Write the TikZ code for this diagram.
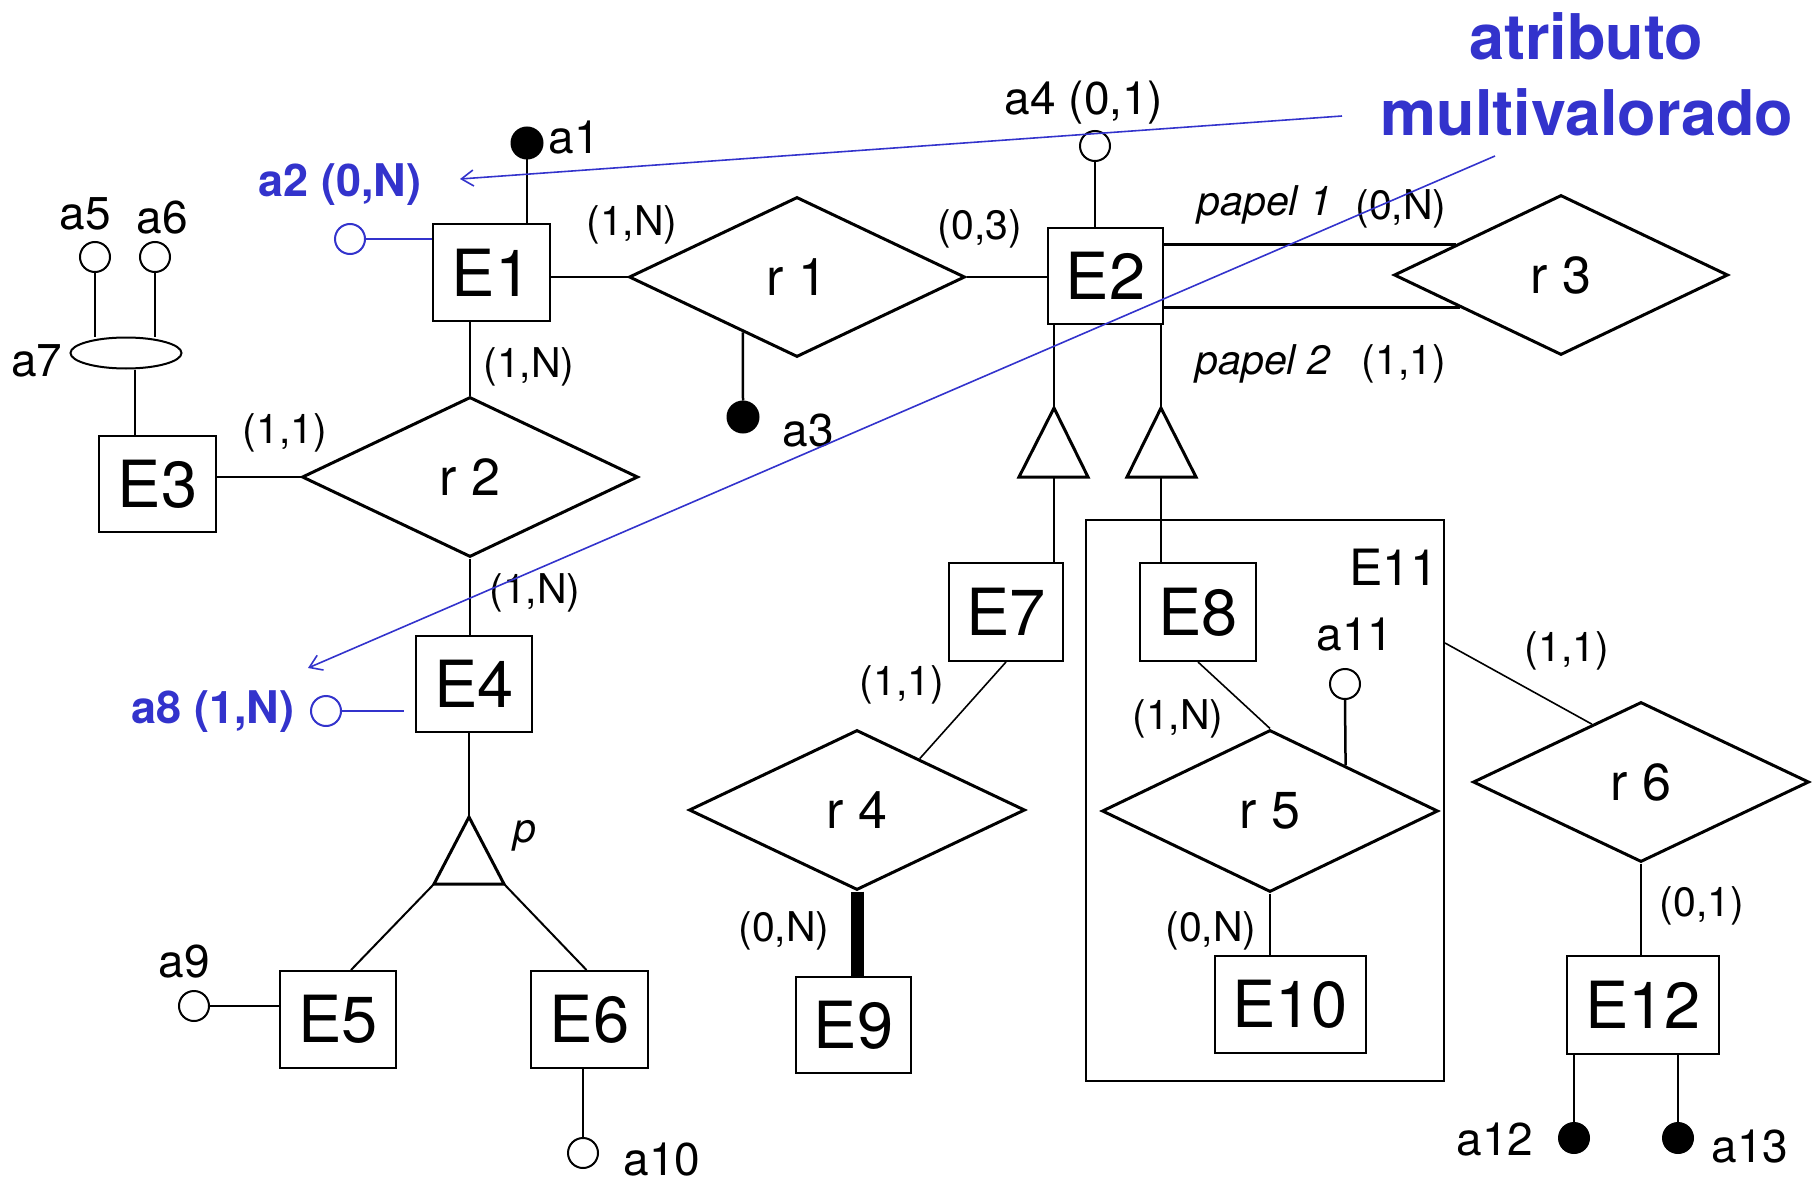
\documentclass[tikz,border=0pt]{standalone}
\usepackage{fontspec}
\setmainfont{TeX Gyre Heros}
\usetikzlibrary{shapes.geometric,arrows.meta,calc}
\definecolor{annblue}{RGB}{51,51,204}
\newcommand{\myfs}[1]{\fontsize{#1pt}{#1pt}\selectfont}
\begin{document}
\begin{tikzpicture}[x=1pt,y=-1pt,
  ent/.style={draw, line width=2pt, inner sep=0pt, font=\myfs{65}},
  rel/.style={draw, diamond, line width=3pt, inner sep=0pt, minimum width=336pt, minimum height=160pt, font=\myfs{52}},
  att/.style={draw, circle, line width=2pt, minimum size=30pt, inner sep=0pt},
  keyatt/.style={att, fill=black},
  lab/.style={font=\myfs{46}, inner sep=0pt},
  card/.style={font=\myfs{41}, inner sep=0pt},
  role/.style={font=\myfs{41}\itshape, inner sep=0pt},
  bluelab/.style={font=\myfs{45}\bfseries, text=annblue, inner sep=0pt},
  conn/.style={line width=2.5pt},
  thinconn/.style={line width=1.6pt},
  isa/.style={line width=3pt, line join=miter},
  annline/.style={draw=annblue, line width=1.6pt}
]
\useasboundingbox (0,0) rectangle (1813,1185);

% entities
\node[ent, minimum width=117pt, minimum height=97pt] (E1) at (491.5,272.5) {E1};
\node[ent, minimum width=115pt, minimum height=96pt] (E2) at (1105.5,276) {E2};
\node[ent, minimum width=117pt, minimum height=96pt] (E3) at (157.5,484) {E3};
\node[ent, minimum width=116pt, minimum height=96pt] (E4) at (474,684) {E4};
\node[ent, minimum width=116pt, minimum height=97pt] (E5) at (338,1019.5) {E5};
\node[ent, minimum width=117pt, minimum height=97pt] (E6) at (589.5,1019.5) {E6};
\node[ent, minimum width=114pt, minimum height=98pt] (E7) at (1006,612) {E7};
\node[ent, minimum width=116pt, minimum height=98pt] (E8) at (1198,612) {E8};
\node[ent, minimum width=115pt, minimum height=96pt] (E9) at (853.5,1025) {E9};
\node[ent, minimum width=151pt, minimum height=97pt] (E10) at (1290,1004) {E10};
\node[ent, minimum width=152pt, minimum height=98pt] (E12) at (1643,1005) {E12};
\node[draw, line width=2pt, minimum width=358pt, minimum height=561pt, inner sep=0pt] (E11) at (1265,800.5) {};
\node[font=\myfs{50}, inner sep=0pt] (E11lab) at (1394,567) {E11};

% relationships
\node[rel] (r1) at (797,277) {r 1};
\node[rel] (r2) at (470,477) {r 2};
\node[rel, minimum width=334pt] (r3) at (1561,275) {r 3};
\node[rel] (r4) at (857,810) {r 4};
\node[rel, minimum height=162pt] (r5) at (1270,811) {r 5};
\node[rel] (r6) at (1641,782) {r 6};

% attributes
\node[keyatt, minimum size=31pt] (a1) at (527,143) {};
\node[att, draw=annblue] (a2) at (350,239) {};
\node[keyatt, minimum size=31pt] (a3) at (743,417) {};
\node[att] (a4) at (1095,146) {};
\node[att] (a5) at (95,257) {};
\node[att] (a6) at (155,257) {};
\node[draw, ellipse, line width=2pt, minimum width=111pt, minimum height=31pt, inner sep=0pt] (a7) at (126,353) {};
\node[att, draw=annblue] (a8) at (326,711) {};
\node[att] (a9) at (194,1006) {};
\node[att] (a10) at (583,1153) {};
\node[att] (a11) at (1345,684) {};
\node[keyatt] (a12) at (1574,1138) {};
\node[keyatt] (a13) at (1678,1138) {};

% attribute labels
\node[lab] (la1) at (574,138) {a1};
\node[bluelab] (la2) at (340,185) {a2 (0,N)};
\node[lab] (la3) at (808,431) {a3};
\node[lab] (la4) at (1084,103) {a4 (0,1)};
\node[lab] (la5) at (85,214) {a5};
\node[lab] (la6) at (162,218) {a6};
\node[lab] (la7) at (37,361) {a7};
\node[bluelab] (la8) at (213,712) {a8 (1,N)};
\node[lab] (la9) at (184,962) {a9};
\node[lab] (la10) at (662,1160) {a10};
\node[lab] (la11) at (1355,635) {a11};
\node[lab] (la12) at (1495,1140) {a12};
\node[lab] (la13) at (1750,1147) {a13};

% cardinalities and roles
\node[card] (c1) at (632,225) {(1,N)};
\node[card] (c2) at (529,367) {(1,N)};
\node[card] (c3) at (285,433) {(1,1)};
\node[card] (c4) at (980,229) {(0,3)};
\node[card] (c5) at (535,593) {(1,N)};
\node[role] (p1) at (1265,205) {papel 1};
\node[card] (c7) at (1401,209) {(0,N)};
\node[role] (p2) at (1263,364) {papel 2};
\node[card] (c9) at (1404,364) {(1,1)};
\node[card] (c10) at (902,685) {(1,1)};
\node[card] (c11) at (784,931) {(0,N)};
\node[card] (c12) at (1178,719) {(1,N)};
\node[card] (c13) at (1211,931) {(0,N)};
\node[card] (c14) at (1567,651) {(1,1)};
\node[card] (c15) at (1702,906) {(0,1)};
\node[role] (plab) at (525,836) {p};

% ISA triangles
\coordinate (t1a) at (1054,408); \coordinate (t1l) at (1019,477); \coordinate (t1r) at (1088,477); \coordinate (t1b) at (1054,477);
\coordinate (t2a) at (1161,408); \coordinate (t2l) at (1127,477); \coordinate (t2r) at (1196,477); \coordinate (t2b) at (1161,477);
\coordinate (tpa) at (469,817); \coordinate (tpl) at (434,884); \coordinate (tpr) at (504,884);
\draw[isa] (t1a) -- (t1l) -- (t1r) -- cycle;
\draw[isa] (t2a) -- (t2l) -- (t2r) -- cycle;
\draw[isa] (tpa) -- (tpl) -- (tpr) -- cycle;

% connectors
\draw[conn] (a1.south) -- (a1.south |- E1.north);
\draw[conn, annblue] (a2.east) -- (a2.east -| E1.west);
\draw[conn] (E1.east |- r1.west) -- (r1.west);
\draw[conn] (E1.south -| r2.north) -- (r2.north);
\draw[conn] (E3.east |- r2.west) -- (r2.west);
\draw[conn] (a5.south) -- (a5.south |- a7.north);
\draw[conn] (a6.south) -- (a6.south |- a7.north);
\draw[conn] ([xshift=9pt]a7.south) -- ([xshift=9pt]a7.south |- E3.north);
\draw[conn] (a3.north) -- ($(r1.south)!0.32!(r1.west)$);
\draw[conn] (a4.south) -- (a4.south |- E2.north);
\draw[conn] (r1.east) -- (r1.east -| E2.west);
\coordinate (r3up) at ($(r3.west)!0.375!(r3.north)$);
\coordinate (r3dn) at ($(r3.west)!0.4!(r3.south)$);
\draw[conn] (E2.east |- r3up) -- (r3up);
\draw[conn] (E2.east |- r3dn) -- (r3dn);
\draw[conn] (E2.south -| t1a) -- (t1a);
\draw[conn] (E2.south -| t2a) -- (t2a);
\draw[conn] (t1b) -- (t1b |- E7.north);
\draw[conn] (t2b) -- (t2b |- E8.north);
\draw[thinconn] (E7.south) -- ($(r4.north)!0.37!(r4.east)$);
\draw[line width=13pt] (r4.south) -- (r4.south |- E9.north);
\draw[thinconn] (E8.south) -- (r5.north);
\draw[conn] (a11.south) -- ($(r5.north)!0.446!(r5.east)$);
\draw[conn] (r5.south) -- (r5.south |- E10.north);
\coordinate (E11out) at ([yshift=-124pt]E11.north east);
\draw[thinconn] (E11out) -- ($(r6.west)!0.71!(r6.north)$);
\draw[conn] (r6.south) -- (r6.south |- E12.north);
\draw[conn] (a12.north |- E12.south) -- (a12.north);
\draw[conn] (a13.north |- E12.south) -- (a13.north);
\draw[conn] (r2.south) -- (r2.south |- E4.north);
\draw[conn, annblue, shorten >=11pt] (a8.east) -- (a8.east -| E4.west);
\draw[conn] (E4.south -| tpa) -- (tpa);
\draw[line width=2pt] (tpl) -- ([xshift=13pt]E5.north);
\draw[line width=2pt] (tpr) -- ([xshift=-3pt]E6.north);
\draw[conn] (a9.east) -- (a9.east -| E5.west);
\draw[conn] (E6.south -| a10.north) -- (a10.north);

% annotation
\node[font=\myfs{63}\bfseries, text=annblue, inner sep=0pt] (t1) at (1586,36) {atributo};
\node[font=\myfs{63}\bfseries, text=annblue, inner sep=0pt] (t2) at (1587,112) {multivalorado};
\coordinate (s1) at (1342,116); \coordinate (e1) at (460,179);
\coordinate (s2) at (1495,156); \coordinate (e2) at (308,668);
\draw[annline, -{Straight Barb[length=12pt, width=16pt, line width=1.6pt]}] (s1) -- (e1);
\draw[annline, -{Straight Barb[length=12pt, width=16pt, line width=1.6pt]}] (s2) -- (e2);
\end{tikzpicture}
\end{document}
